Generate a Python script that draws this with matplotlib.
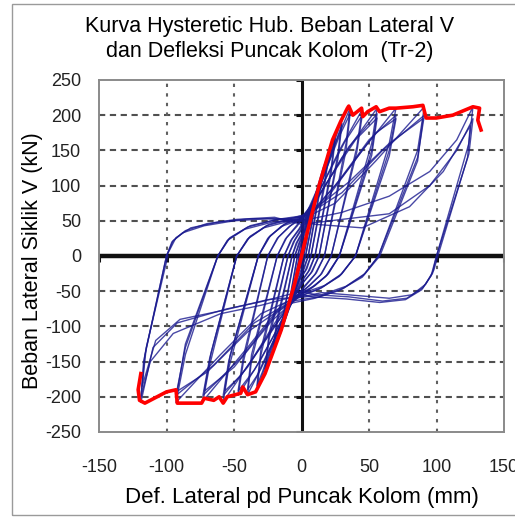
import matplotlib
matplotlib.use("Agg")
import matplotlib.pyplot as plt
from matplotlib.patches import Rectangle

# ---------------- data ----------------
title_text = "Kurva Hysteretic Hub. Beban Lateral V\ndan Defleksi Puncak Kolom  (Tr-2)"
xlabel_text = "Def. Lateral pd Puncak Kolom (mm)"
ylabel_text = "Beban Lateral Siklik V (kN)"
x_ticks = [-150, -100, -50, 0, 50, 100, 150]
y_ticks = [-250, -200, -150, -100, -50, 0, 50, 100, 150, 200, 250]

# envelope (red)
envelope_x = [-119, -121, -120, -116, -100, -93, -92, -74, -72, -65, -61, -58, -55, -45, -43.5, -40, -34,
              -27, -15, -5, 0, 2, 5, 13, 23, 29, 34, 35, 38, 44.5, 45.4, 49, 55.3, 57.8, 65, 70, 82.5,
              89.9, 92.3, 99.8, 112, 127, 131.9, 130.6, 133]
envelope_y = [-167, -190, -205, -209, -193, -190, -209, -209, -202, -205, -200, -209, -200, -195, -186, -197, -193,
              -167, -105, -39, 0, 16, 39, 100, 165, 191, 210, 213, 200, 210, 198, 205, 212, 205, 210, 210, 212,
              214, 196, 196, 200, 212, 210, 193, 179]

# hysteresis cycles (blue), (x mm, V kN)
cyc_05a = [(-1.5,0),(0,12),(2,22),(5,38),(4,25),(1.5,0),(0,-12),(-2,-22),(-5,-39),(-4,-26),(-1.5,0)]
cyc_05b = [(-1.5,0),(0.5,14),(3,25),(5,36),(4,22),(1.5,0),(-0.5,-14),(-3,-25),(-5,-37),(-4,-24),(-1.5,0)]
cyc_10a = [(-3,0),(-1,15),(1,28),(5,48),(10,77),(8,52),(3,0),(1,-15),(-1,-28),(-4,-45),(-9,-68),(-7,-45),(-3,0)]
cyc_10b = [(-3,0),(0,18),(3,34),(7,55),(10,72),(8,48),(3,0),(0,-18),(-3,-32),(-6,-50),(-9,-64),(-7,-42),(-3,0)]
cyc_15a = [(-5,0),(-2,18),(1,32),(6,60),(11,90),(15,113),(12,80),(5,0),(2,-18),(-1,-30),(-6,-58),(-11,-85),(-15,-105),(-12,-72),(-5,0)]
cyc_15b = [(-5,0),(-1,20),(3,38),(8,68),(12,92),(15,108),(12,74),(5,0),(1,-20),(-3,-36),(-8,-64),(-12,-86),(-15,-100),(-12,-68),(-5,0)]
cyc_20a = [(-7,0),(-4,18),(0,32),(5,55),(11,92),(16,125),(20,145),(17,105),(7,0),(4,-18),(0,-30),(-6,-55),(-12,-90),(-17,-118),(-21,-135),(-18,-95),(-7,0)]
cyc_20b = [(-7,0),(-3,20),(2,36),(8,66),(14,105),(20,140),(17,98),(7,0),(3,-20),(-2,-35),(-8,-62),(-14,-98),(-21,-130),(-18,-88),(-7,0)]
cyc_25a = [(-10,0),(-6,20),(-1,36),(6,62),(13,100),(20,142),(25,172),(22,125),(10,0),(6,-20),(1,-34),(-7,-62),(-15,-100),(-22,-140),(-27,-166),(-24,-118),(-10,0)]
cyc_25b = [(-10,0),(-5,22),(1,40),(9,72),(16,110),(22,148),(25,166),(22,118),(10,0),(5,-22),(-1,-38),(-9,-70),(-17,-110),(-24,-146),(-27,-160),(-24,-110),(-10,0)]
cyc_30a = [(-13,0),(-8,22),(-2,38),(6,65),(15,108),(23,155),(30,195),(27,145),(13,0),(8,-22),(2,-36),(-8,-66),(-18,-110),(-27,-158),(-33,-190),(-30,-140),(-13,0)]
cyc_30b = [(-13,0),(-7,24),(0,42),(9,76),(18,120),(26,165),(30,188),(27,138),(13,0),(7,-24),(0,-40),(-10,-74),(-21,-122),(-29,-165),(-33,-184),(-30,-132),(-13,0)]
cyc_36a = [(-18,0),(-12,24),(-5,40),(4,62),(14,105),(25,160),(36,210),(33,160),(17,0),(11,-24),(4,-40),(-6,-62),(-18,-110),(-30,-160),(-40,-197),(-37,-148),(-18,0)]
cyc_36b = [(-18,0),(-11,26),(-3,43),(7,72),(18,122),(28,170),(36,202),(33,150),(17,0),(10,-26),(2,-43),(-9,-72),(-22,-125),(-33,-170),(-40,-190),(-37,-140),(-18,0)]
cyc_45a = [(-25,0),(-18,25),(-9,42),(2,55),(14,95),(28,150),(45,208),(41,155),(22,0),(15,-25),(6,-42),(-5,-58),(-17,-100),(-31,-150),(-47,-198),(-43,-150),(-25,0)]
cyc_45b = [(-25,0),(-17,27),(-7,45),(5,62),(18,110),(32,162),(45,200),(41,148),(22,0),(14,-27),(4,-45),(-8,-65),(-21,-115),(-35,-162),(-47,-192),(-43,-142),(-25,0)]
cyc_56a = [(-32,0),(-25,25),(-15,42),(-3,50),(10,75),(30,140),(56,210),(52,160),(28,0),(20,-25),(10,-42),(-3,-55),(-18,-90),(-36,-145),(-58,-207),(-54,-160),(-32,0)]
cyc_56b = [(-32,0),(-24,27),(-13,45),(0,54),(15,92),(35,155),(56,202),(52,150),(28,0),(19,-27),(8,-45),(-5,-60),(-22,-105),(-40,-158),(-58,-198),(-54,-150),(-32,0)]
cyc_56c = [(-32,0),(-23,29),(-11,47),(3,58),(20,108),(40,165),(56,196),(52,143),(28,0),(18,-29),(6,-47),(-7,-64),(-26,-118),(-45,-170),(-57,-192),(-53,-142),(-32,0)]
cyc_70a = [(-48,0),(-40,24),(-28,40),(-12,48),(3,52),(20,85),(45,150),(70,210),(65,160),(40,0),(30,-25),(17,-42),(2,-52),(-15,-70),(-40,-130),(-73,-206),(-68,-155),(-48,0)]
cyc_70b = [(-48,0),(-39,26),(-26,43),(-10,51),(5,58),(25,100),(50,165),(70,200),(65,150),(40,0),(29,-27),(15,-45),(0,-56),(-18,-80),(-45,-145),(-73,-198),(-68,-145),(-48,0)]
cyc_70c = [(-48,0),(-38,28),(-24,45),(-8,53),(8,62),(30,112),(55,175),(70,195),(65,142),(40,0),(28,-29),(13,-47),(-2,-58),(-22,-92),(-50,-158),(-72,-192),(-67,-138),(-48,0)]
cyc_91a = [(-62,0),(-55,22),(-42,38),(-22,48),(0,52),(25,75),(55,135),(91,212),(86,150),(57,0),(47,-25),(33,-43),(15,-55),(-5,-60),(-30,-82),(-60,-140),(-93,-208),(-86,-140),(-62,0)]
cyc_91b = [(-62,0),(-54,24),(-40,41),(-20,51),(2,56),(30,90),(60,150),(91,200),(86,140),(57,0),(46,-27),(31,-46),(13,-58),(-7,-64),(-35,-95),(-65,-155),(-93,-198),(-86,-130),(-62,0)]
cyc_91c = [(-62,0),(-53,26),(-38,43),(-18,52),(4,58),(35,105),(65,160),(90,195),(86,135),(58,0),(45,-30),(28,-49),(10,-60),(-10,-68),(-40,-108),(-70,-165),(-92,-192),(-86,-125),(-62,0)]
cyc_127a = [(-100,0),(-96,20),(-88,33),(-72,43),(-50,50),(-25,53),(0,50),(30,62),(65,85),(95,120),(115,165),(127,212),(124,160),(100,0),(97,-25),(90,-45),(78,-60),(60,-64),(35,-58),(10,-55),(0,-50),(-30,-65),(-55,-75),(-92,-95),(-110,-130),(-119,-208),(-117,-150),(-100,0)]
cyc_127b = [(-100,0),(-95,22),(-86,36),(-70,46),(-48,52),(-20,55),(0,45),(30,52),(65,60),(95,100),(115,150),(127,195),(124,145),(100,0),(96,-28),(89,-48),(77,-62),(58,-66),(33,-61),(8,-58),(0,-55),(-30,-70),(-60,-82),(-95,-110),(-112,-150),(-119,-200),(-116,-140),(-100,0)]
cyc_127c = [(-100,0),(-93,26),(-82,40),(-62,48),(-38,53),(-10,53),(10,45),(45,40),(80,70),(105,120),(125,185),(123,140),(101,0),(98,-20),(92,-40),(82,-55),(65,-60),(40,-56),(15,-52),(0,-58),(-25,-62),(-60,-78),(-90,-90),(-108,-120),(-118,-185),(-115,-130),(-99,0)]

cycles = [cyc_05a, cyc_05b, cyc_10a, cyc_10b, cyc_15a, cyc_15b, cyc_20a, cyc_20b,
          cyc_25a, cyc_25b, cyc_30a, cyc_30b, cyc_36a, cyc_36b, cyc_45a, cyc_45b,
          cyc_56a, cyc_56b, cyc_56c, cyc_70a, cyc_70b, cyc_70c, cyc_91a, cyc_91b, cyc_91c,
          cyc_127a, cyc_127b, cyc_127c]

# ---------------- figure ----------------
W, H = 515, 518
fig = plt.figure(figsize=(W / 100, H / 100), dpi=100)
plt.rcParams['font.family'] = ['Liberation Sans', 'DejaVu Sans']

ax = fig.add_axes([99 / W, 1 - 432 / H, 405 / W, 352 / H])
ax.set_xlim(-150, 150)
ax.set_ylim(-250, 250)
ax.set_xticks(x_ticks)
ax.set_yticks(y_ticks)
ax.set_xticklabels([str(v) for v in x_ticks])
ax.set_yticklabels([str(v) for v in y_ticks])
ax.tick_params(axis='both', length=0, labelsize=13, colors='#222222')
ax.tick_params(axis='x', pad=19.5)
ax.tick_params(axis='y', pad=13)
for s in ax.spines.values():
    s.set_color('#8a8a8a')
    s.set_linewidth(1.4)

# grid
for yv in y_ticks:
    if yv not in (-250, 0, 250):
        ax.axhline(yv, color='#505050', lw=1.5, dashes=(3, 2.2), zorder=1)
for xv in x_ticks:
    if xv not in (-150, 0, 150):
        ax.axvline(xv, color='#606060', lw=1.5, dashes=(1.6, 3), zorder=1)

# zero axes
ax.axhline(0, color='#111111', lw=3.2, zorder=1.5)
ax.axvline(0, color='#111111', lw=2.2, zorder=1.5)
ax.plot(x_ticks, [0] * len(x_ticks), linestyle='none', marker=3, ms=4, mew=2.2, color='#111111', zorder=1.5)
ax.plot([0] * len(y_ticks), y_ticks, linestyle='none', marker=0, ms=4, mew=2.2, color='#111111', zorder=1.5)

# blue cycles
for cyc in cycles:
    xs = [p[0] for p in cyc]
    ys = [p[1] for p in cyc]
    ax.plot(xs, ys, color='#1a1a8f', lw=1.0, alpha=0.8, zorder=2, solid_joinstyle='round')

# envelope
ax.plot(envelope_x, envelope_y, color='#ff0000', lw=2.6, zorder=3, solid_joinstyle='round')

# labels
ax.set_xlabel(xlabel_text, fontsize=16, va='center')
ax.xaxis.set_label_coords(0.5, -65 / 352)
ax.set_ylabel(ylabel_text, fontsize=15.5, va='center')
ax.yaxis.set_label_coords(-66 / 405, 171 / 352)

fig.text(270 / W, 1 - 39 / H, title_text, ha='center', va='center', fontsize=15.5,
         linespacing=1.25)

# outer frame
fig.patches.append(Rectangle((12 / W, 3 / H), 1.2, 511 / H, transform=fig.transFigure,
                             fill=False, edgecolor='#9a9a9a', lw=1.0))

fig.savefig("out.png", dpi=100)
